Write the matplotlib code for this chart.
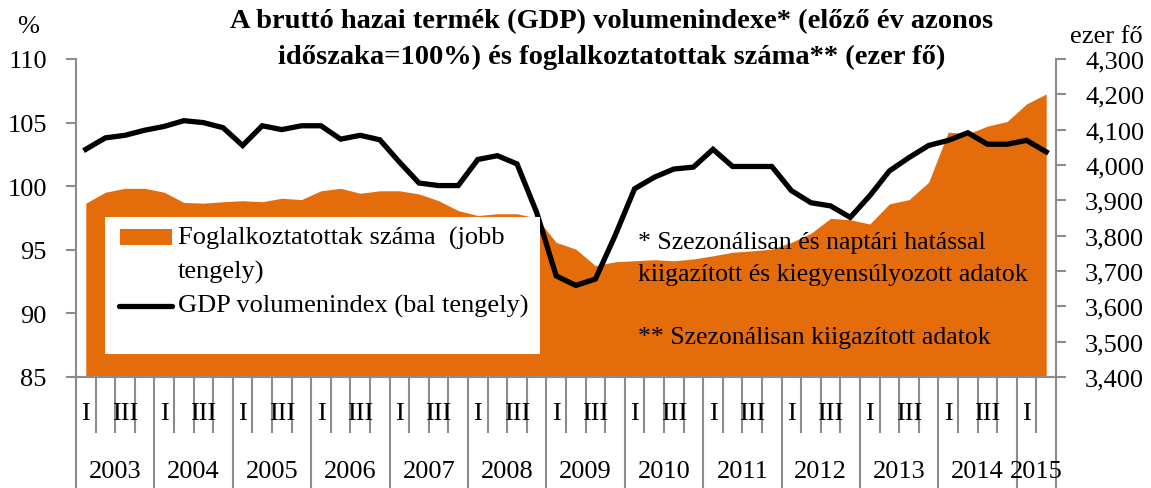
import numpy as np
import matplotlib
matplotlib.use("Agg")
import matplotlib.pyplot as plt
from matplotlib.patches import Rectangle
import matplotlib.transforms as mtransforms

# quarters 2003 Q1 .. 2015 Q2
years = [str(y) for y in range(2003, 2016)]
quarter_names = ["I", "", "III", ""]

# GDP volume index, previous year same period = 100 (left axis)
gdp = [102.9, 103.8, 104.0, 104.4, 104.7, 105.15, 105.0, 104.6, 103.2, 104.75,
       104.45, 104.75, 104.75, 103.7, 104.0, 103.65, 101.9, 100.25, 100.05, 100.05,
       102.1, 102.4, 101.75, 97.95, 92.95, 92.2, 92.7, 96.1, 99.8, 100.7,
       101.35, 101.5, 102.9, 101.55, 101.55, 101.55, 99.65, 98.7, 98.45, 97.55,
       99.25, 101.2, 102.25, 103.2, 103.6, 104.2, 103.3, 103.3, 103.6, 102.7]

# employed persons, thousand (right axis)
employed = [3892, 3923, 3934, 3934, 3923, 3894, 3892, 3896, 3899, 3896,
            3906, 3902, 3927, 3934, 3920, 3927, 3927, 3918, 3899, 3871,
            3857, 3862, 3862, 3850, 3781, 3762, 3715, 3726, 3729, 3732,
            3729, 3734, 3743, 3753, 3757, 3762, 3781, 3807, 3849, 3845,
            3833, 3890, 3902, 3951, 4093, 4088, 4110, 4123, 4173, 4201]

left_ticks = [85, 90, 95, 100, 105, 110]
right_ticks = [3400, 3500, 3600, 3700, 3800, 3900, 4000, 4100, 4200, 4300]

orange = "#E46C0A"
grey = "#8C8C8C"
fs = 19
plt.rcParams["font.family"] = ["Liberation Serif", "DejaVu Serif"]

W, H = 1151, 489
fig = plt.figure(figsize=(W / 100, H / 100), dpi=100)
ax = fig.add_axes([76 / W, 1 - 378 / H, 980 / W, 318 / H])
ax2 = ax.twinx()

def axy(py):
    # pixel row -> axes fraction
    return (378 - py) / 318

def axx(px):
    return (px - 76) / 980

n = len(gdp)
x = np.arange(n)

# area on the right axis, behind
ax2.fill_between(x, right_ticks[0], employed, color=orange, lw=0)
ax2.set_ylim(3400, 4300)
ax2.set_yticks(right_ticks)
ax2.set_yticklabels(["{:,}".format(v) for v in right_ticks])

# GDP line on top
ax.set_zorder(ax2.get_zorder() + 1)
ax.patch.set_visible(False)
ax.plot(x, gdp, color="black", lw=3.8, solid_joinstyle="miter", zorder=3)
ax.set_ylim(85, 110)
ax.set_yticks(left_ticks)
ax.set_xlim(-0.5, n - 0.5)
ax.set_xticks([])

for a in (ax, ax2):
    a.spines["top"].set_visible(False)
    for s in ("left", "right", "bottom"):
        a.spines[s].set_color(grey)
        a.spines[s].set_linewidth(1.5)
    a.tick_params(axis="y", length=7, width=1.5, color=grey, pad=14, labelsize=fs)
ax.spines["right"].set_visible(False)
ax2.spines["left"].set_visible(False)

# category axis: quarter and year separators and labels
tr = mtransforms.blended_transform_factory(ax.transData, ax.transAxes)
for k in range(n + 1):
    xs = k - 0.5
    low = -0.35 if (k % 4 == 0 or k == n) else axy(433)
    ax.plot([xs, xs], [0, low], color=grey, lw=1.5, transform=tr, clip_on=False)
for i in range(n):
    q = quarter_names[i % 4]
    if q:
        ax.text(i, axy(414), q, transform=tr, ha="center", va="center", fontsize=fs)
for j, yr in enumerate(years):
    last = min(4 * j + 3, n - 1)
    ax.text((4 * j + last) / 2, axy(472), yr, transform=tr, ha="center", va="center", fontsize=fs)

# legend on white box
ax.add_patch(Rectangle((axx(105), axy(355)), 435 / 980, 137 / 318, transform=ax.transAxes,
                       facecolor="white", edgecolor="none", zorder=4))
ax.add_patch(Rectangle((axx(120), axy(246)), 52 / 980, 16 / 318, transform=ax.transAxes,
                       facecolor=orange, edgecolor="none", zorder=5))
ax.plot([axx(119), axx(172)], [axy(307), axy(307)], color="black", lw=3.8,
        solid_capstyle="round", transform=ax.transAxes, zorder=5)
ax.text(axx(178), axy(238), "Foglalkoztatottak száma  (jobb", transform=ax.transAxes,
        ha="left", va="center", fontsize=fs, zorder=6)
ax.text(axx(178), axy(272), "tengely)", transform=ax.transAxes,
        ha="left", va="center", fontsize=fs, zorder=6)
ax.text(axx(178), axy(306), "GDP volumenindex (bal tengely)", transform=ax.transAxes,
        ha="left", va="center", fontsize=fs, zorder=6)

# notes
ax.text(axx(638), axy(243), "* Szezonálisan és naptári hatással", transform=ax.transAxes,
        ha="left", va="center", fontsize=18.5, zorder=5)
ax.text(axx(638), axy(275), "kiigazított és kiegyensúlyozott adatok", transform=ax.transAxes,
        ha="left", va="center", fontsize=18.5, zorder=5)
ax.text(axx(638), axy(338), "** Szezonálisan kiigazított adatok", transform=ax.transAxes,
        ha="left", va="center", fontsize=18.5, zorder=5)

# titles and axis units
fig.text(612 / W, 1 - 22 / H, "A bruttó hazai termék (GDP) volumenindexe* (előző év azonos",
         ha="center", va="center", fontsize=20.5, fontweight="bold")
fig.text(612 / W, 1 - 57 / H, "időszaka=100%) és foglalkoztatottak száma** (ezer fő)",
         ha="center", va="center", fontsize=20.5, fontweight="bold")
fig.text(28 / W, 1 - 27 / H, "%", ha="center", va="center", fontsize=fs)
fig.text(1106 / W, 1 - 37 / H, "ezer fő", ha="center", va="center", fontsize=fs)

fig.savefig("out.png", dpi=100)
